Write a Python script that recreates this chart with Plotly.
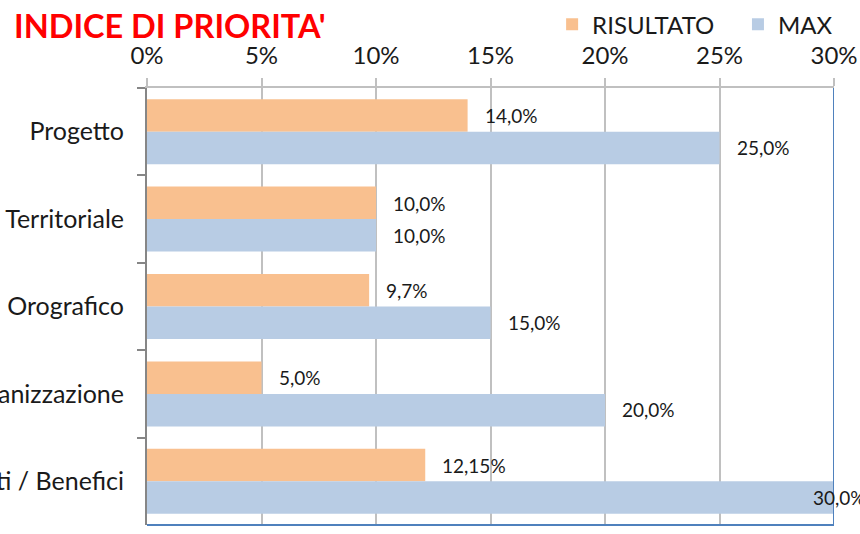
import plotly.graph_objects as go

categories = ["Indice di Progetto", "Indice Territoriale", "Indice Orografico", "Urbanizzazione", "Costi / Benefici"]
cat_labels = ["Progetto", "Territoriale", "Orografico", "Urbanizzazione", "Costi / Benefici"]
risultato = [14.0, 10.0, 9.7, 5.0, 12.15]
massimo = [25.0, 10.0, 15.0, 20.0, 30.0]
x_ticks = [0, 5, 10, 15, 20, 25, 30]
x_tick_labels = ["0%", "5%", "10%", "15%", "20%", "25%", "30%"]

ORANGE = "#F9C08F"
BLUE = "#B8CCE4"
FONT = "Lato"
TXT = "#1a1a1a"


def fmt(v):
    s = f"{v:.2f}" if round(v, 1) != v else f"{v:.1f}"
    return s.replace(".", ",") + "%"


fig = go.Figure()
fig.add_trace(go.Bar(y=cat_labels, x=risultato, orientation="h", name="RISULTATO",
                     marker=dict(color=ORANGE, line=dict(width=0)), legend="legend", showlegend=True))
fig.add_trace(go.Bar(y=cat_labels, x=massimo, orientation="h", name="MAX",
                     marker=dict(color=BLUE, line=dict(width=0)), legend="legend2", showlegend=True))

xmax = x_ticks[-1]
annotations = []
for vals, ys in ((risultato, 16), (massimo, -16)):
    for c, v in zip(cat_labels, vals):
        annotations.append(dict(x=v, y=c, xref="x", yref="y", text=fmt(v), showarrow=False,
                                xanchor="left", yanchor="middle", xshift=(-23 if v >= xmax else 15),
                                yshift=ys, font=dict(family=FONT, size=19, color=TXT)))

leg_common = dict(orientation="h", xanchor="left", y=1.145, yanchor="middle",
                  font=dict(family=FONT, size=24, color=TXT), bgcolor="rgba(0,0,0,0)")

fig.update_layout(
    width=860, height=534,
    margin=dict(l=147, r=26, t=88, b=9, autoexpand=False),
    paper_bgcolor="white", plot_bgcolor="white",
    showlegend=True,
    barmode="group", bargap=0.256, bargroupgap=0,
    font=dict(family=FONT, color=TXT),
    title=dict(text="<b>INDICE DI PRIORITA'</b>", x=14 / 860, xref="container", xanchor="left",
               y=1 - 27 / 534, yref="container", yanchor="middle",
               font=dict(family=FONT, size=32.5, color="#FF0000")),
    legend=dict(x=0.5897, **leg_common),
    legend2=dict(x=0.8602, **leg_common),
    annotations=annotations,
    xaxis=dict(side="top", range=[0, xmax], tickvals=x_ticks, ticktext=x_tick_labels,
               showgrid=True, gridcolor="#C0C0C0", gridwidth=1.5,
               showline=True, linecolor="#C0C0C0", linewidth=1.5,
               ticks="outside", ticklen=8, tickcolor="#C0C0C0", tickwidth=1.5,
               tickfont=dict(family=FONT, size=24, color=TXT), zeroline=False,
               ticklabelstandoff=5, automargin=False, fixedrange=True),
    yaxis=dict(autorange="reversed", showline=True, linecolor="#868686", linewidth=2,
               ticks="outside", ticklen=8, tickcolor="#868686", tickwidth=1.5,
               tickson="boundaries", showgrid=False,
               tickfont=dict(family=FONT, size=25, color=TXT), ticklabelstandoff=16,
               automargin=False, fixedrange=True),
    shapes=[
        dict(type="line", xref="x", yref="paper", x0=xmax, x1=xmax, y0=0, y1=1,
             line=dict(color="#4F81BD", width=2)),
        dict(type="line", xref="x", yref="paper", x0=0, x1=xmax, y0=0, y1=0,
             line=dict(color="#4F81BD", width=2)),
    ],
)

fig.write_html("out.html", config={"displayModeBar": False},
               post_script="document.body.style.margin='0';document.body.style.overflow='hidden';")
